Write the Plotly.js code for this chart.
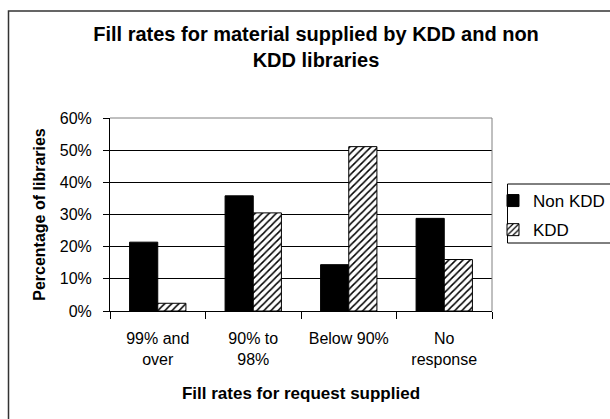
<!DOCTYPE html>
<html>
<head>
<meta charset="utf-8">
<script src="https://cdn.plot.ly/plotly-3.0.1.min.js"></script>
<style>
  html, body { margin: 0; padding: 0; background: #fff; }
  #chart { width: 610px; height: 419px; }
</style>
</head>
<body>
<div id="chart"></div>
<script>
const categories = ["99% and<br>over", "90% to<br>98%", "Below 90%", "No<br>response"];
const nonKddValues = [21.4, 35.8, 14.4, 28.8];
const kddValues = [2.4, 30.5, 51.1, 16.0];
const seriesNames = ["Non KDD", "KDD"];
const yTickVals = [0, 10, 20, 30, 40, 50, 60];

const FONT = "Liberation Sans, Arial, sans-serif";

const traces = [
  {
    type: "bar",
    name: seriesNames[0],
    x: categories,
    y: nonKddValues,
    marker: { color: "#000000", line: { color: "#000000", width: 1 } },
    legendgroup: "a"
  },
  {
    type: "bar",
    name: seriesNames[1],
    x: categories,
    y: kddValues,
    marker: {
      color: "#ffffff",
      line: { color: "#000000", width: 1 },
      pattern: { shape: "/", fgcolor: "#000000", bgcolor: "#ffffff", size: 5, solidity: 0.3 }
    },
    legendgroup: "b"
  }
];

const L = 110, R = 118, T = 118, B = 108;
const W = 610, H = 419;
const pw = W - L - R, ph = H - T - B;
const px2x = p => (p - L) / pw;
const py2y = p => (H - B - p) / ph;

const layout = {
  width: W,
  height: H,
  margin: { l: L, r: R, t: T, b: B, pad: 0, autoexpand: false },
  paper_bgcolor: "#ffffff",
  plot_bgcolor: "#ffffff",
  font: { family: FONT, color: "#000000", size: 16 },
  showlegend: true,
  barmode: "group",
  bargap: 0.41,
  bargroupgap: 0,
  title: {
    text: "<b>Fill rates for material supplied by KDD and non<br>KDD libraries</b>",
    font: { family: FONT, size: 20, color: "#000000" },
    x: 316 / W,
    xref: "container",
    xanchor: "center",
    y: 1 - 41 / H,
    yref: "container",
    yanchor: "top"
  },
  xaxis: {
    type: "category",
    tickson: "boundaries",
    ticks: "outside",
    ticklen: 7,
    tickcolor: "#000000",
    ticklabelstandoff: 13,
    showline: true,
    linecolor: "#000000",
    linewidth: 1,
    showgrid: false,
    zeroline: false,
    tickfont: { family: FONT, size: 16, color: "#000000" },
    title: {
      text: "<b>Fill rates for request supplied</b>",
      font: { family: FONT, size: 17, color: "#000000" },
      standoff: 20
    }
  },
  yaxis: {
    range: [0, 60],
    tickvals: yTickVals,
    ticktext: yTickVals.map(v => v + "%"),
    ticks: "outside",
    ticklen: 6,
    tickcolor: "#000000",
    ticklabelstandoff: 8,
    showline: true,
    linecolor: "#000000",
    linewidth: 1,
    showgrid: true,
    gridcolor: "#000000",
    gridwidth: 1,
    zeroline: false,
    tickfont: { family: FONT, size: 16, color: "#000000" },
    title: {
      text: "<b>Percentage of libraries</b>",
      font: { family: FONT, size: 16, color: "#000000" },
      standoff: 10
    }
  },
  legend: {
    x: px2x(493),
    xanchor: "left",
    y: py2y(183),
    yanchor: "top",
    bgcolor: "rgba(0,0,0,0)",
    borderwidth: 0,
    font: { family: FONT, size: 17, color: "#000000" },
    tracegroupgap: 4,
    itemwidth: 30
  },
  shapes: [
    {
      type: "path",
      xref: "paper", yref: "paper",
      path: "M0,1 L1,1 L1,0",
      line: { color: "#808080", width: 1 },
      layer: "above"
    },
    {
      type: "rect",
      xref: "paper", yref: "paper",
      x0: px2x(507.5), x1: px2x(640),
      y0: py2y(243), y1: py2y(184),
      line: { color: "#000000", width: 1 },
      fillcolor: "#ffffff",
      layer: "below"
    },
    {
      type: "rect",
      xref: "paper", yref: "paper",
      x0: px2x(8.5), x1: px2x(640),
      y0: py2y(440), y1: py2y(11),
      line: { color: "#333333", width: 1.5 },
      fillcolor: "rgba(0,0,0,0)",
      layer: "below"
    }
  ]
};

Plotly.newPlot("chart", traces, layout, { displayModeBar: false, staticPlot: true });
</script>
</body>
</html>
